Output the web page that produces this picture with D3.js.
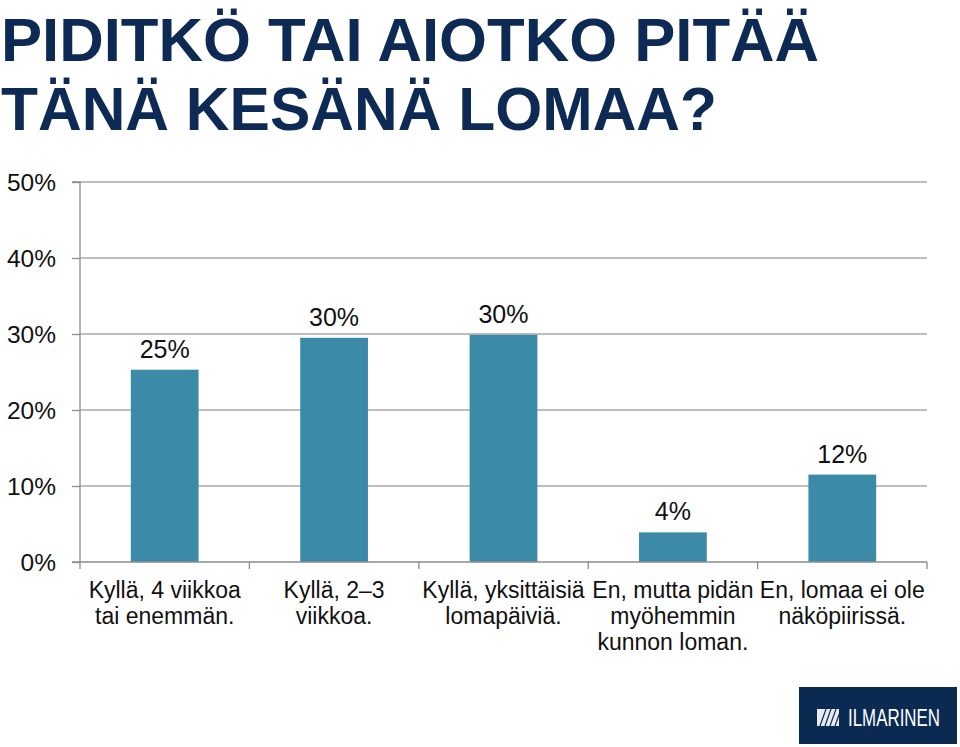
<!DOCTYPE html>
<html>
<head>
<meta charset="utf-8">
<script src="https://cdn.jsdelivr.net/npm/d3@7"></script>
<style>
  html, body { margin: 0; padding: 0; background: #fff; }
  svg { display: block; }
</style>
</head>
<body>
<svg id="chart" width="960" height="747"></svg>
<script>
const titleLines = ["PIDITKÖ TAI AIOTKO PITÄÄ", "TÄNÄ KESÄNÄ LOMAA?"];
const categories = [
  ["Kyllä, 4 viikkoa", "tai enemmän."],
  ["Kyllä, 2\u20133", "viikkoa."],
  ["Kyllä, yksittäisiä", "lomapäiviä."],
  ["En, mutta pidän", "myöhemmin", "kunnon loman."],
  ["En, lomaa ei ole", "näköpiirissä."]
];
const values = [25.3, 29.5, 29.9, 3.9, 11.5];
const valueLabels = ["25%", "30%", "30%", "4%", "12%"];
const yTicks = [0, 10, 20, 30, 40, 50];
const logoText = "ILMARINEN";

(function () {
const svg = d3.select("#chart");
const FONT = "'Liberation Sans', Arial, sans-serif";
const NAVY = "#0d2a55";
const BAR = "#3b8ba8";

// Title
svg.append("g").selectAll("text").data(titleLines).join("text")
  .attr("x", 1)
  .attr("y", (d, i) => 61 + i * 69)
  .attr("font-family", FONT)
  .attr("font-weight", "bold")
  .attr("font-size", 62)
  .attr("fill", NAVY)
  .attr("textLength", (d, i) => i === 0 ? 818 : 716)
  .attr("lengthAdjust", "spacingAndGlyphs")
  .text(d => d);

const pLeft = 80, pRight = 927, pTop = 182, pBottom = 562;
const x = d3.scaleBand().domain(d3.range(categories.length)).range([pLeft, pRight]).paddingInner(0.6).paddingOuter(0.3);
const xEdges = d3.scaleBand().domain(d3.range(categories.length)).range([pLeft, pRight]);
const y = d3.scaleLinear().domain([0, 50]).range([pBottom, pTop]);

// Gridlines
svg.append("g").selectAll("line").data(yTicks.filter(t => t > 0)).join("line")
  .attr("x1", pLeft).attr("x2", pRight)
  .attr("y1", d => y(d)).attr("y2", d => y(d))
  .attr("stroke", "#a8a8a8").attr("stroke-width", 1.3);

// Y axis
const yAxis = d3.axisLeft(y).tickValues(yTicks).tickFormat(d => d + "%").tickSize(8).tickPadding(16);
const yg = svg.append("g").attr("transform", `translate(${pLeft},0)`).call(yAxis);
yg.select(".domain").attr("stroke", "#8c8c8c").attr("stroke-width", 1.3).attr("d", `M-8,${pTop}H0V${pBottom}`);
yg.selectAll(".tick line").attr("stroke", "#8c8c8c").attr("stroke-width", 1.3);
yg.selectAll(".tick text").attr("font-family", FONT).attr("font-size", 24.5).attr("fill", "#111").attr("dy", "0.36em");

// Bars
svg.append("g").selectAll("rect").data(values).join("rect")
  .attr("x", (d, i) => x(i))
  .attr("width", x.bandwidth())
  .attr("y", d => y(d))
  .attr("height", d => pBottom - y(d))
  .attr("fill", BAR);

// Value labels
svg.append("g").selectAll("text").data(values).join("text")
  .attr("x", (d, i) => x(i) + x.bandwidth() / 2)
  .attr("y", d => y(d) - 12)
  .attr("text-anchor", "middle")
  .attr("font-family", FONT)
  .attr("font-size", 25)
  .attr("fill", "#111")
  .text((d, i) => valueLabels[i]);

// X axis baseline and ticks
const xg = svg.append("g");
xg.append("line").attr("x1", pLeft - 8).attr("x2", pRight).attr("y1", pBottom).attr("y2", pBottom)
  .attr("stroke", "#8c8c8c").attr("stroke-width", 1.3);
const edges = d3.range(categories.length + 1).map(i => i < categories.length ? xEdges(i) : pRight);
xg.selectAll("line.t").data(edges).join("line").attr("class", "t")
  .attr("x1", d => d).attr("x2", d => d)
  .attr("y1", pBottom).attr("y2", pBottom + 7)
  .attr("stroke", "#8c8c8c").attr("stroke-width", 1.3);

// Category labels
const cl = svg.append("g").selectAll("text").data(categories).join("text")
  .attr("x", (d, i) => xEdges(i) + xEdges.bandwidth() / 2)
  .attr("y", 598)
  .attr("text-anchor", "middle")
  .attr("font-family", FONT)
  .attr("font-size", 23)
  .attr("fill", "#111");
cl.selectAll("tspan").data(d => d).join("tspan")
  .attr("x", function () { return d3.select(this.parentNode).attr("x"); })
  .attr("dy", (d, i) => i === 0 ? 0 : 26)
  .text(d => d);

// Logo
const logo = svg.append("g");
logo.append("rect").attr("x", 799).attr("y", 687).attr("width", 158).attr("height", 57).attr("fill", "#0b2a52");
logo.append("rect").attr("x", 817).attr("y", 709).attr("width", 22).attr("height", 17).attr("fill", "#e8ecf0");
[0, 5, 10, 15].forEach(o => {
  logo.append("line").attr("x1", 820 + o).attr("y1", 726).attr("x2", 826 + o).attr("y2", 709)
    .attr("stroke", "#0b2a52").attr("stroke-width", 1.2);
});
logo.append("text").attr("x", 848).attr("y", 726)
  .attr("font-family", FONT).attr("font-size", 23).attr("fill", "#fff")
  .attr("textLength", 92).attr("lengthAdjust", "spacingAndGlyphs")
  .text(logoText);
})();
</script>
</body>
</html>
